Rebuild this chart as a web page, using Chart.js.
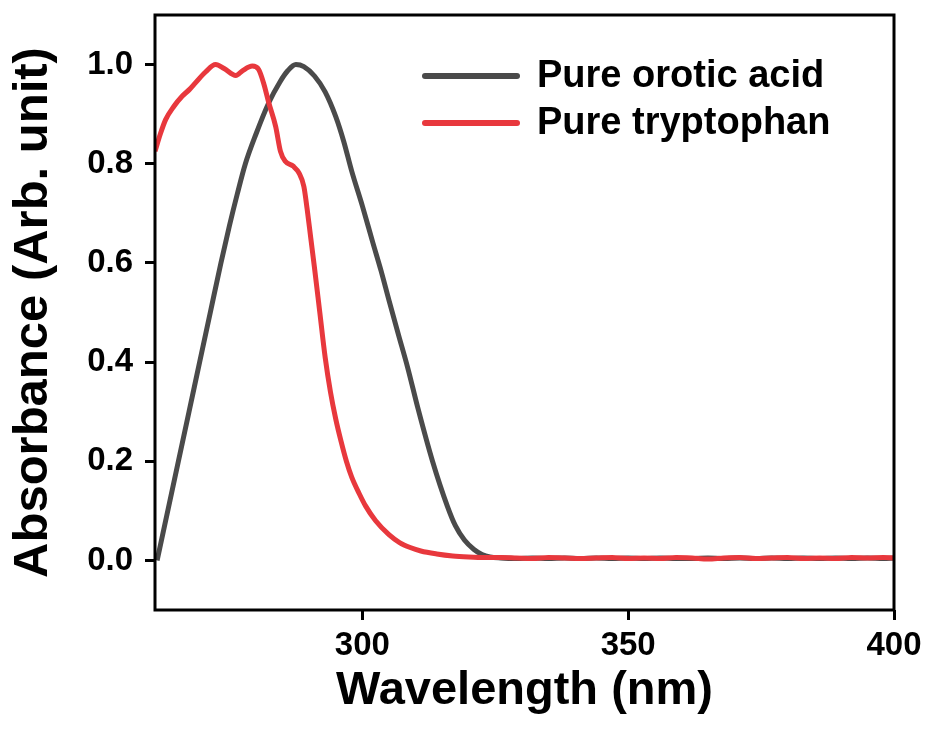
<!DOCTYPE html>
<html>
<head>
<meta charset="utf-8">
<script src="https://cdn.jsdelivr.net/npm/chart.js@4.4.1/dist/chart.umd.min.js"></script>
<style>
  html, body { margin: 0; padding: 0; background: #ffffff; }
  canvas { display: block; }
</style>
</head>
<body>
<canvas id="c" width="930" height="733"></canvas>
<script>
// ---- Data ----
const seriesNames = ["Pure orotic acid", "Pure tryptophan"];

const oroticWavelength = [261.4, 263, 265.4, 267.4, 269.4, 271.4, 273.4, 275, 276.5, 278, 280, 282.4, 284.5, 286, 287.5, 289, 291, 293, 295, 296.5, 298, 300, 302, 303.5, 305, 306.8, 308.5, 310.5, 313.2, 316, 317.5, 319.2, 321, 322.5, 324, 326,
  329, 332, 335, 338, 341, 344, 347, 350, 353, 356, 359, 362, 365, 368, 371, 374, 377, 380, 383, 386, 389, 392, 395, 398, 400];
const oroticAbsorbance = [0.0, 0.08, 0.2, 0.3, 0.4, 0.5, 0.6, 0.675, 0.74, 0.8, 0.86, 0.923, 0.965, 0.988, 1.0, 0.996, 0.977, 0.945, 0.895, 0.845, 0.785, 0.715, 0.64, 0.585, 0.525, 0.455, 0.39, 0.305, 0.20, 0.109, 0.07, 0.041, 0.022, 0.012, 0.007, 0.005,
  0.004, 0.005, 0.004, 0.005, 0.004, 0.005, 0.004, 0.005, 0.004, 0.005, 0.004, 0.004, 0.005, 0.004, 0.005, 0.004, 0.005, 0.004, 0.005, 0.004, 0.005, 0.004, 0.005, 0.004, 0.005];

const tryptoWavelength = [261, 262, 263, 264.5, 266.1, 267.5, 268.6, 270.5, 272.4, 274, 276.2, 277.5, 279.3, 280.5, 281.5, 282.4, 283.7, 284.6, 285.5, 287, 288.1, 289, 289.6, 290.3, 291, 292, 293, 294, 295, 296, 297, 298, 299.4, 300.6, 302.5, 305, 307, 309, 311, 314, 317, 320, 323,
  326, 329, 332, 335, 338, 341, 344, 347, 350, 353, 356, 359, 362, 365, 368, 371, 374, 377, 380, 383, 386, 389, 392, 395, 398, 400];
const tryptoAbsorbance = [0.825, 0.86, 0.889, 0.915, 0.936, 0.95, 0.963, 0.985, 1.0, 0.992, 0.978, 0.988, 0.997, 0.99, 0.96, 0.923, 0.875, 0.825, 0.805, 0.795, 0.781, 0.754, 0.71, 0.65, 0.59, 0.5, 0.41, 0.34, 0.285, 0.24, 0.2, 0.168, 0.135, 0.11, 0.08, 0.052, 0.036, 0.026, 0.019, 0.013, 0.009, 0.007, 0.006,
  0.006, 0.005, 0.004, 0.006, 0.005, 0.004, 0.005, 0.006, 0.004, 0.005, 0.004, 0.006, 0.005, 0.003, 0.005, 0.006, 0.004, 0.005, 0.006, 0.004, 0.005, 0.004, 0.006, 0.005, 0.006, 0.005];

const xTickValues = [300, 350, 400];
const yTickValues = [0.0, 0.2, 0.4, 0.6, 0.8, 1.0];

// ---- Styling ----
const FONT = '"Liberation Sans", Arial, "DejaVu Sans", sans-serif';
const GRAY = '#4a4a4a';
const RED = '#e8383d';

const toPoints = (xs, ys) => xs.map((x, i) => ({ x: x, y: ys[i] }));

const framePlugin = {
  id: 'frame',
  afterDatasetsDraw(chart) {
    const { ctx, chartArea: a } = chart;
    ctx.save();
    ctx.strokeStyle = '#000';
    ctx.lineWidth = 3;
    ctx.strokeRect(a.left, a.top, a.right - a.left, a.bottom - a.top);
    ctx.restore();
  }
};

const legendPlugin = {
  id: 'insideLegend',
  afterDraw(chart) {
    const { ctx, chartArea: a } = chart;
    const ds = chart.data.datasets;
    const x0 = a.left + 270, x1 = a.left + 362, tx = a.left + 382;
    const y0 = a.top + 61, dy = 47;
    ctx.save();
    ds.forEach((d, i) => {
      const y = y0 + i * dy;
      ctx.strokeStyle = d.borderColor;
      ctx.lineWidth = 6;
      ctx.lineCap = 'round';
      ctx.beginPath();
      ctx.moveTo(x0, y);
      ctx.lineTo(x1, y);
      ctx.stroke();
      ctx.fillStyle = '#000';
      ctx.font = 'bold 38px ' + FONT;
      ctx.textAlign = 'left';
      ctx.textBaseline = 'middle';
      ctx.fillText(d.label, tx, y + 1);
    });
    ctx.restore();
  }
};

new Chart(document.getElementById('c'), {
  type: 'line',
  data: {
    datasets: [
      {
        label: seriesNames[0],
        data: toPoints(oroticWavelength, oroticAbsorbance),
        borderColor: GRAY,
        backgroundColor: GRAY,
        borderWidth: 5,
        pointRadius: 0,
        cubicInterpolationMode: 'monotone',
        order: 1
      },
      {
        label: seriesNames[1],
        data: toPoints(tryptoWavelength, tryptoAbsorbance),
        borderColor: RED,
        backgroundColor: RED,
        borderWidth: 5,
        pointRadius: 0,
        cubicInterpolationMode: 'monotone',
        order: 0
      }
    ]
  },
  options: {
    responsive: false,
    animation: false,
    devicePixelRatio: 1,
    layout: { padding: { top: 15, right: 36, bottom: 0, left: 0 } },
    plugins: {
      legend: { display: false },
      tooltip: { enabled: false },
      title: { display: false }
    },
    scales: {
      x: {
        type: 'linear',
        min: 261,
        max: 400,
        afterFit(scale) { scale.height = 123; scale.paddingLeft = 0; scale.paddingRight = 0; },
        afterBuildTicks(scale) { scale.ticks = xTickValues.map(v => ({ value: v })); },
        border: { display: false },
        grid: { drawOnChartArea: false, drawTicks: true, tickLength: 10, tickWidth: 3, tickColor: '#000' },
        ticks: {
          color: '#000',
          padding: 6,
          maxRotation: 0,
          font: { family: FONT, size: 33, weight: 'bold' },
          callback: v => String(Math.round(v))
        },
        title: {
          display: true,
          text: 'Wavelength (nm)',
          color: '#000',
          font: { family: FONT, size: 47, weight: 'bold', lineHeight: 1 },
          padding: { top: 0, bottom: 18 }
        }
      },
      y: {
        type: 'linear',
        min: -0.1,
        max: 1.1,
        afterFit(scale) { scale.width = 155; scale.paddingTop = 0; scale.paddingBottom = 0; },
        afterBuildTicks(scale) { scale.ticks = yTickValues.map(v => ({ value: v })); },
        border: { display: false },
        grid: { drawOnChartArea: false, drawTicks: true, tickLength: 10, tickWidth: 3, tickColor: '#000' },
        ticks: {
          color: '#000',
          padding: 12,
          font: { family: FONT, size: 33, weight: 'bold' },
          callback: v => Number(v).toFixed(1)
        },
        title: {
          display: true,
          text: 'Absorbance (Arb. unit)',
          color: '#000',
          font: { family: FONT, size: 49, weight: 'bold', lineHeight: 1 },
          padding: { top: 9, bottom: 0 }
        }
      }
    }
  },
  plugins: [framePlugin, legendPlugin]
});
</script>
</body>
</html>
